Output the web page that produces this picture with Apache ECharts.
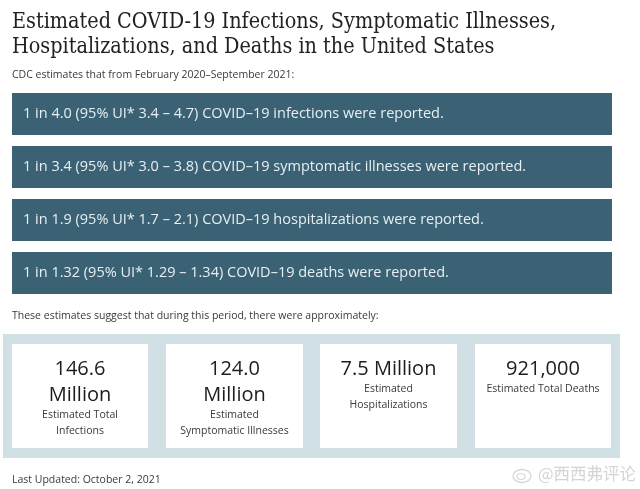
<!DOCTYPE html>
<html><head><meta charset="utf-8">
<style>html,body{margin:0;padding:0;background:#fff}#c{width:640px;height:489px}</style>
<script src="https://cdn.jsdelivr.net/npm/echarts@6/dist/echarts.min.js"></script>
</head><body><div id="c"></div>
<script>
const titleLines = ["Estimated COVID-19 Infections, Symptomatic Illnesses,", "Hospitalizations, and Deaths in the United States"];
const introText = "CDC estimates that from February 2020–September 2021:";
const ratioLines = [
  "1 in 4.0 (95% UI* 3.4 – 4.7) COVID–19 infections were reported.",
  "1 in 3.4 (95% UI* 3.0 – 3.8) COVID–19 symptomatic illnesses were reported.",
  "1 in 1.9 (95% UI* 1.7 – 2.1) COVID–19 hospitalizations were reported.",
  "1 in 1.32 (95% UI* 1.29 – 1.34) COVID–19 deaths were reported."
];
const summaryText = "These estimates suggest that during this period, there were approximately:";
const cardValues = [["146.6", "Million"], ["124.0", "Million"], ["7.5 Million"], ["921,000"]];
const cardLabels = [["Estimated Total", "Infections"], ["Estimated", "Symptomatic Illnesses"], ["Estimated", "Hospitalizations"], ["Estimated Total Deaths"]];
const footerText = "Last Updated: October 2, 2021";
const watermark = "@西西弗评论";

const sans = '"Open Sans", sans-serif';
const serif = '"DejaVu Serif Condensed", "DejaVu Serif", serif';
const els = [];
const text = (x, y, s, size, color, extra) => els.push({type:'text', x, y, silent:true,
  style:Object.assign({text:s, fontSize:size, fontFamily:sans, fill:color, textVerticalAlign:'middle'}, extra||{})});
const rect = (x, y, w, h, fill) => els.push({type:'rect', shape:{x, y, width:w, height:h}, style:{fill}, silent:true});

titleLines.forEach((s,i) => text(12, 22 + i*25, s, 21.4, '#222222', {fontFamily:serif}));
text(12, 75.5, introText, 10.5, '#3a3a3a');
const barTop = [93, 146, 199, 252];
ratioLines.forEach((s,i) => {
  rect(12, barTop[i], 600, 42, '#3a6274');
  text(23, barTop[i] + 21, s, 14.5, '#e8eef1');
});
text(12, 316, summaryText, 10.5, '#3a3a3a');
rect(3, 334, 617, 124, '#d0e0e5');
const cardX = [12, 166, 320, 475], cardW = [136, 137, 137, 136];
cardValues.forEach((lines,i) => {
  rect(cardX[i], 344, cardW[i], 104, '#ffffff');
  const cx = cardX[i] + cardW[i]/2;
  lines.forEach((s,j) => text(cx, 369 + j*26, s, 20, '#1c1c1c', {textAlign:'center'}));
  const start = 389 + (lines.length-1)*26;
  cardLabels[i].forEach((s,j) => text(cx, start + j*16, s, 10.5, '#3a3a3a', {textAlign:'center'}));
});
text(12, 480.5, footerText, 10.5, '#3a3a3a');
els.push({type:'ellipse', shape:{cx:522, cy:476, rx:9, ry:6.5}, style:{fill:'none', stroke:'#d8d8d8', lineWidth:1.4}, silent:true});
els.push({type:'ellipse', shape:{cx:521, cy:476.5, rx:4, ry:3}, style:{fill:'none', stroke:'#d8d8d8', lineWidth:1.2}, silent:true});
text(636, 474, watermark, 16.5, '#d4d4d4', {textAlign:'right', fontFamily:'"Noto Sans CJK SC", sans-serif'});

const chart = echarts.init(document.getElementById('c'), null, {renderer:'canvas'});
chart.setOption({animation:false, backgroundColor:'#ffffff', graphic:{elements:els}});
</script></body></html>
